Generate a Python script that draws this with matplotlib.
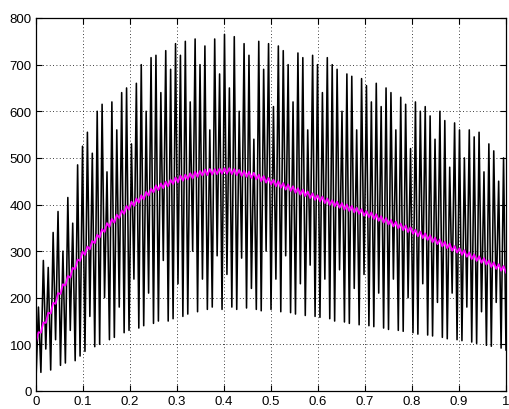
import numpy as np
import matplotlib
matplotlib.use("Agg")
import matplotlib.pyplot as plt

# ---- data ----
peaks = [180, 280, 265, 340, 385, 300, 415, 360, 485, 525,
         555, 510, 600, 615, 470, 620, 560, 640, 650, 530,
         660, 700, 600, 715, 720, 640, 730, 690, 745, 720,
         750, 620, 755, 700, 740, 560, 755, 680, 765, 650,
         760, 600, 745, 720, 540, 750, 690, 745, 610, 740,
         730, 700, 620, 725, 715, 560, 720, 700, 640, 715,
         700, 690, 600, 680, 675, 560, 670, 655, 620, 660,
         610, 650, 640, 560, 630, 615, 520, 620, 600, 610,
         590, 540, 600, 580, 480, 575, 560, 500, 560, 545,
         555, 470, 530, 515, 450, 500]
troughs = [25, 40, 90, 45, 110, 55, 60, 130, 65, 75,
           85, 160, 95, 100, 200, 110, 115, 180, 125, 130,
           240, 135, 140, 210, 145, 150, 280, 150, 155, 230,
           160, 165, 300, 170, 240, 175, 180, 290, 175, 250,
           180, 175, 285, 178, 220, 175, 172, 300, 175, 240,
           170, 290, 168, 165, 230, 162, 270, 160, 158, 240,
           155, 150, 260, 148, 145, 220, 142, 250, 140, 138,
           210, 135, 132, 240, 130, 128, 200, 125, 122, 230,
           120, 118, 190, 115, 112, 210, 110, 108, 180, 105,
           102, 170, 98, 96, 190, 92, 88]
mean_line = [104, 126, 125, 147, 146, 168, 166, 189, 187, 210,
             208, 229, 226, 247, 243, 264, 261, 282, 279, 299,
             292, 310, 304, 322, 317, 335, 329, 347, 341, 360,
             352, 369, 361, 378, 371, 387, 380, 397, 389, 406,
             397, 413, 404, 420, 411, 427, 419, 434, 426, 441,
             431, 445, 435, 449, 439, 453, 444, 458, 448, 462,
             451, 464, 454, 467, 456, 470, 459, 472, 462, 475,
             463, 476, 464, 476, 465, 477, 466, 478, 466, 478,
             465, 476, 463, 474, 461, 472, 459, 470, 457, 468,
             454, 464, 450, 461, 447, 457, 443, 453, 439, 450,
             436, 446, 432, 443, 429, 439, 425, 435, 421, 432,
             418, 428, 414, 424, 410, 420, 407, 417, 403, 413,
             399, 409, 396, 406, 393, 403, 389, 400, 386, 397,
             383, 393, 380, 390, 376, 386, 373, 383, 369, 379,
             365, 375, 361, 371, 357, 367, 353, 363, 349, 359,
             345, 355, 341, 351, 337, 346, 332, 342, 328, 338,
             324, 334, 319, 329, 315, 325, 310, 320, 306, 316,
             301, 311, 297, 306, 292, 302, 288, 297, 283, 293,
             279, 289, 275, 285, 271, 280, 266, 276, 262, 272,
             258, 268, 254]
xticks = [0, 0.1, 0.2, 0.3, 0.4, 0.5, 0.6, 0.7, 0.8, 0.9, 1]
xticklabels = ["0", "0.1", "0.2", "0.3", "0.4", "0.5", "0.6", "0.7", "0.8", "0.9", "1"]
yticks = [0, 100, 200, 300, 400, 500, 600, 700, 800]

# interleave troughs and peaks into one signal
signal = []
for i in range(len(peaks)):
    signal.append(troughs[i])
    signal.append(peaks[i])
signal.append(troughs[-1])
t_sig = np.linspace(0, 1, len(signal))
t_mean = np.linspace(0, 1, len(mean_line))

plt.rcParams['font.family'] = ['Liberation Sans Narrow', 'Liberation Sans', 'DejaVu Sans']

fig = plt.figure(figsize=(5.09, 4.10), dpi=100)
ax = fig.add_axes([36/509, 1-392/410, 470/509, 373/410])

ax.plot(t_sig, signal, color='black', lw=1.15)
ax.plot(t_mean, mean_line, color='#ff00ff', lw=1.3)

ax.set_xlim(0, 1)
ax.set_ylim(0, 800)
ax.set_xticks(xticks)
ax.set_xticklabels(xticklabels)
ax.set_yticks(yticks)
ax.tick_params(direction='in', top=True, right=True, length=4, width=0.8,
               labelsize=9.5, pad=3)
ax.grid(True, color='black', linestyle=(0, (1, 3)), lw=0.6)
for s in ax.spines.values():
    s.set_linewidth(0.9)

fig.savefig("out.png", dpi=100)
